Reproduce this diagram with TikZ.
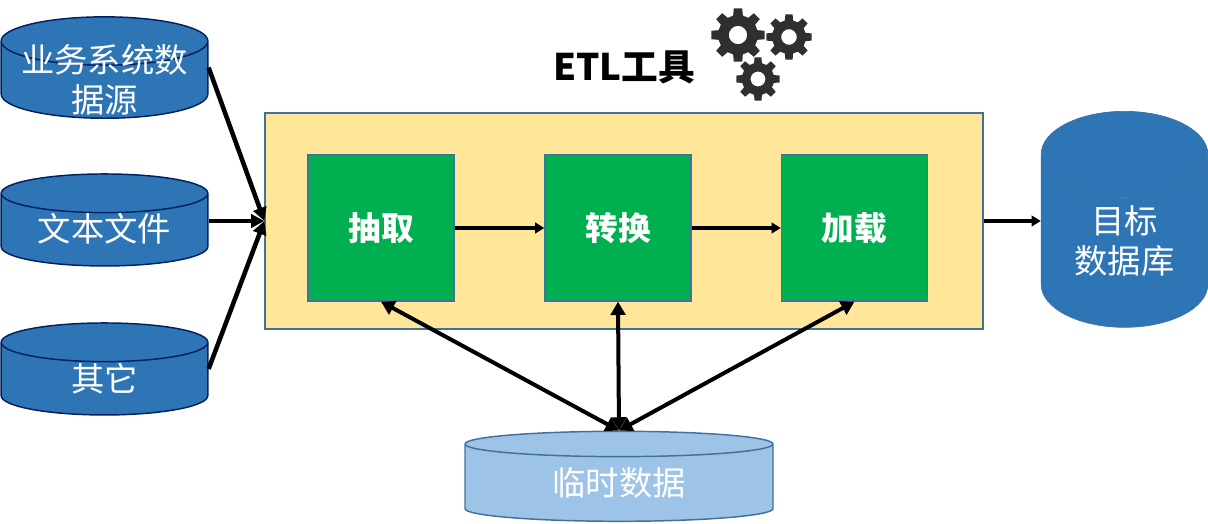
\documentclass[tikz,border=0pt]{standalone}
\usepackage{fontspec}
\setmainfont{Noto Sans CJK SC}
\usetikzlibrary{arrows.meta,positioning,shapes.geometric}
\definecolor{dbblue}{HTML}{2E75B6}
\definecolor{dbedge}{HTML}{002060}
\definecolor{tmpblue}{HTML}{9DC3E6}
\definecolor{boxedge}{HTML}{41719C}
\definecolor{etlyellow}{HTML}{FFE699}
\definecolor{stepgreen}{HTML}{00B050}
\definecolor{gearcol}{HTML}{2F2F2F}
% one gear: centre, outer radius
\newcommand{\drawgear}[3]{
  \fill[gearcol, even odd rule, shift={(#1,#2)}]
    (0:#3*0.74)
    \foreach \a in {0,45,...,315}{
      -- (\a-14:#3*0.74) -- (\a-9:#3) -- (\a+9:#3) -- (\a+14:#3*0.74) -- (\a+31:#3*0.74)
    } -- cycle
    (0,0) circle[radius=#3*0.34];
}
\begin{document}
\begin{tikzpicture}[x=0.75pt, y=-0.75pt,
    db/.style={cylinder, shape border rotate=90, draw=dbedge, line width=1.1pt, aspect=0.29,
      cylinder uses custom fill, cylinder body fill=dbblue, cylinder end fill=dbblue,
      text=white, align=center, inner sep=0pt, minimum width=155pt, minimum height=69pt,
      font=\fontsize{25}{30}\selectfont},
    dbone/.style={db, text width=100pt, text height=21pt, text depth=3pt},
    etlbox/.style={draw=boxedge, fill=etlyellow, line width=1pt, minimum width=538.5pt, minimum height=162pt},
    stepbox/.style={draw=boxedge, fill=stepgreen, line width=1pt, minimum width=109.5pt, minimum height=109.5pt,
      text=white, font=\fontsize{24.5}{30}\selectfont\bfseries},
    arr/.style={-{Triangle[length=10pt,width=10pt]}, line width=3.4pt},
    arrs/.style={-{Triangle[length=7pt,width=8pt]}, line width=2.6pt},
    dbl/.style={{Triangle[length=10pt,width=11pt]}-{Triangle[length=10pt,width=11pt]}, line width=3pt}]
  \useasboundingbox (0,0) rectangle (1208,524);
  % === Sources ===
  \node[db, inner ysep=-16pt] (src1) at (104.5,80)  {业务系统数\\据源};
  \node[dbone] (src2) at (104.5,230) {文本文件};
  \node[dbone] (src3) at (104.5,379) {其它};
  % === ETL box ===
  \node[etlbox] (etl) at (624,221) {};
  \node[stepbox] (ext) at (381,228)   {抽取};
  \node[stepbox] (trf) at (618,228)   {转换};
  \node[stepbox] (lod) at (854.5,228) {加载};
  \node[font=\fontsize{27.5}{30}\selectfont\bfseries] (title) at (624,67) {ETL工具};
  % === Gears ===
  \drawgear{738}{35}{27}
  \drawgear{789}{37}{23}
  \drawgear{758}{79}{22}
  % === Target and temp ===
  \node[db, draw=boxedge, line width=0.5pt, minimum width=125pt, minimum height=162pt, aspect=0.86] (tgt) at (1124.5,241) {目标\\数据库};
  \node[db, draw=boxedge, cylinder body fill=tmpblue, cylinder end fill=tmpblue,
    minimum width=231pt, minimum height=67.5pt, aspect=0.19] (tmp) at (619,483) {临时数据};
  % === Arrows ===
  \draw[arr] (src1.shape center -| src1.east) -- (etl.west);
  \draw[arr] (etl.west -| src2.east) -- (etl.west);
  \draw[arr] (src3.shape center -| src3.east) -- (etl.west);
  \draw[arrs] (ext) -- (trf);
  \draw[arrs] (trf) -- (lod);
  \draw[arrs] (etl.east) -- (etl.east -| tgt.west);
  \draw[dbl] (ext.south) -- (tmp.north);
  \draw[dbl] (trf.south) -- (tmp.north);
  \draw[dbl] (lod.south) -- (tmp.north);
\end{tikzpicture}
\end{document}
